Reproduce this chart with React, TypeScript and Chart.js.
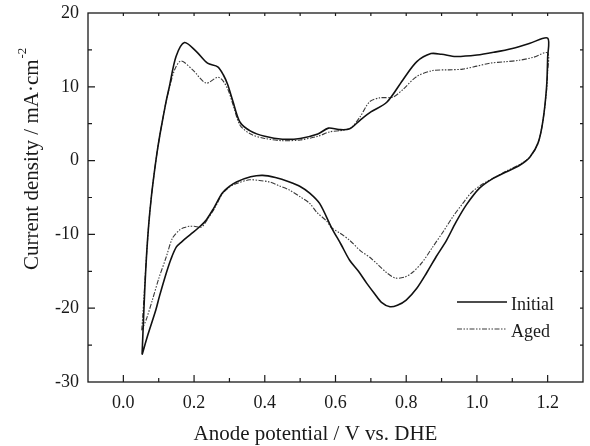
import React, { useEffect, useRef } from "react";
import { Chart, registerables } from "chart.js";

Chart.register(...registerables);

// Initial CV (anodic scan 0.05 -> 1.2, then cathodic scan 1.2 -> 0.05)
const initialX = [
  0.053, 0.057, 0.061, 0.066, 0.072, 0.079, 0.087, 0.095, 0.103, 0.111, 0.12, 0.13, 0.149, 0.173, 0.206, 0.238,
  0.267, 0.283, 0.295, 0.31, 0.33, 0.36, 0.4, 0.45, 0.5, 0.55, 0.58, 0.61, 0.64, 0.67, 0.7, 0.745, 0.79,
  0.83, 0.87, 0.9, 0.94, 1.0, 1.05, 1.1, 1.15, 1.2,
  1.2, 1.197, 1.187, 1.173, 1.15, 1.122, 1.084, 1.046, 1.008, 0.97, 0.94, 0.914, 0.885, 0.858, 0.83,
  0.8, 0.775, 0.754, 0.73, 0.71, 0.688, 0.665, 0.64, 0.615, 0.589, 0.555, 0.527, 0.5, 0.47, 0.43, 0.394,
  0.36, 0.32, 0.3, 0.28, 0.255, 0.235, 0.215, 0.19, 0.165, 0.15, 0.135, 0.121, 0.102, 0.092, 0.07, 0.053,
];
const initialY = [
  -26.2, -21.5, -17.0, -12.5, -8.5, -5.0, -1.8, 1.0, 3.4, 5.5, 7.8, 10, 14.1, 16.0, 14.8, 13.2,
  12.7, 11.6, 10.3, 8.0, 5.2, 4.0, 3.3, 2.9, 3.0, 3.6, 4.4, 4.2, 4.3, 5.5, 6.6, 7.9, 10.9,
  13.4, 14.5, 14.4, 14.1, 14.3, 14.7, 15.2, 15.9, 16.6,
  14, 10.0, 5.5, 2.4, 0.5, -0.6, -1.5, -2.4, -3.7, -6.0, -8.4, -10.8, -13.0, -15.2, -17.3,
  -18.9, -19.6, -19.8, -19.2, -18.0, -16.6, -15.0, -13.5, -11.3, -9.1, -5.8, -4.4, -3.5, -2.9, -2.3, -2.0,
  -2.2, -2.9, -3.5, -4.4, -6.5, -8.0, -9.0, -10.0, -11.0, -11.7, -13.3, -15.3, -18.4, -20.2, -23.5, -26.3,
];

// Aged CV
const agedX = [
  0.052, 0.055, 0.058, 0.062, 0.066, 0.072, 0.079, 0.087, 0.095, 0.103, 0.111, 0.12, 0.13, 0.145, 0.163, 0.196,
  0.234, 0.267, 0.282, 0.297, 0.31, 0.33, 0.36, 0.4, 0.45, 0.5, 0.55, 0.584, 0.62, 0.645, 0.669, 0.697,
  0.725, 0.762, 0.79, 0.83, 0.875, 0.92, 0.96, 1.0, 1.037, 1.08, 1.12, 1.16, 1.2,
  1.2, 1.197, 1.187, 1.173, 1.15, 1.122, 1.084, 1.05, 1.015, 0.985, 0.96, 0.932, 0.905, 0.875, 0.845, 0.819,
  0.795, 0.768, 0.745, 0.72, 0.697, 0.67, 0.64, 0.612, 0.589, 0.575, 0.547, 0.527, 0.5, 0.47, 0.44, 0.414,
  0.385, 0.357, 0.32, 0.3, 0.28, 0.26, 0.24, 0.221, 0.2, 0.187, 0.17, 0.159, 0.139, 0.121, 0.1, 0.082,
  0.065, 0.052,
];
const agedY = [
  -23.0, -21, -18.8, -15.5, -12.5, -8.5, -5.0, -1.8, 1.0, 3.4, 5.5, 7.8, 9.8, 12.3, 13.5, 12.3,
  10.5, 11.3, 10.8, 9.5, 7.6, 4.8, 3.6, 3.0, 2.7, 2.8, 3.3, 3.9, 4.1, 4.5, 5.9, 8.0,
  8.5, 8.6, 9.6, 11.4, 12.2, 12.3, 12.4, 12.8, 13.2, 13.4, 13.6, 14.0, 14.6,
  12, 9.5, 5.5, 2.4, 0.5, -0.5, -1.4, -2.3, -3.2, -4.3, -5.8, -7.6, -9.6, -11.7, -13.8, -15.1,
  -15.8, -15.9, -15.2, -14.1, -13.1, -12.2, -10.8, -9.8, -9.1, -8.2, -7.0, -5.8, -4.9, -4.0, -3.4, -2.9,
  -2.7, -2.6, -3.1, -3.6, -4.5, -6.3, -7.8, -9.0, -8.9, -8.9, -9.1, -9.4, -10.5, -13.1, -16.0, -18.9,
  -21.5, -23.0,
];

const seriesNames = ["Initial", "Aged"];
const xTitle = "Anode potential / V vs. DHE";
const yTitleMain = "Current density / mA\u00b7cm";
const yTitleSup = "-2";

const FONT = "'Liberation Serif', 'Times New Roman', serif";

const zip = (xs: number[], ys: number[]) => xs.map((x, i) => ({ x, y: ys[i] }));

const decor = {
  id: "decor",
  afterDraw(chart: any) {
    const { ctx, chartArea, scales } = chart;
    const { left, right, top, bottom } = chartArea;
    const xs = scales.x;
    const ys = scales.y;
    ctx.save();
    ctx.strokeStyle = "#1a1a1a";
    ctx.lineWidth = 1.3;
    ctx.strokeRect(left, top, right - left, bottom - top);
    ctx.lineWidth = 1.2;
    ctx.beginPath();
    for (let i = 0; i <= 12; i++) {
      const px = xs.getPixelForValue(i / 10);
      const len = i % 2 === 0 ? 7 : 4;
      ctx.moveTo(px, bottom);
      ctx.lineTo(px, bottom - len);
      ctx.moveTo(px, top);
      ctx.lineTo(px, top + 3);
    }
    for (let v = -25; v <= 15; v += 5) {
      const py = ys.getPixelForValue(v);
      const len = v % 10 === 0 ? 7 : 4;
      ctx.moveTo(left, py);
      ctx.lineTo(left + len, py);
      ctx.moveTo(right, py);
      ctx.lineTo(right - 3, py);
    }
    ctx.stroke();

    // axis titles
    ctx.fillStyle = "#1a1a1a";
    ctx.font = `21px ${FONT}`;
    ctx.textAlign = "center";
    ctx.textBaseline = "alphabetic";
    ctx.fillText(xTitle, 315.5, 440);

    ctx.save();
    ctx.translate(38, 270);
    ctx.rotate(-Math.PI / 2);
    ctx.textAlign = "left";
    ctx.fillText(yTitleMain, 0, 0);
    const w = ctx.measureText(yTitleMain).width;
    ctx.font = `13px ${FONT}`;
    ctx.fillText(yTitleSup, w + 1, -12);
    ctx.restore();

    // legend
    const ds = chart.data.datasets;
    const rows = [302, 329];
    ctx.font = `18px ${FONT}`;
    ctx.textAlign = "left";
    ds.forEach((d: any, i: number) => {
      ctx.save();
      ctx.strokeStyle = d.borderColor;
      ctx.lineWidth = d.borderWidth;
      ctx.setLineDash(d.borderDash || []);
      ctx.beginPath();
      ctx.moveTo(457, rows[i]);
      ctx.lineTo(507, rows[i]);
      ctx.stroke();
      ctx.restore();
      ctx.fillText(seriesNames[i], 511, rows[i] + 8);
    });
    ctx.restore();
  },
};

export default function App() {
  const ref = useRef<HTMLCanvasElement>(null);
  useEffect(() => {
    if (!ref.current) return;
    const chart = new Chart(ref.current, {
      type: "scatter",
      data: {
        datasets: [
          {
            label: seriesNames[0],
            data: zip(initialX, initialY),
            showLine: true,
            borderColor: "#111111",
            borderWidth: 1.6,
            pointRadius: 0,
            tension: 0.3,
            fill: false,
          },
          {
            label: seriesNames[1],
            data: zip(agedX, agedY),
            showLine: true,
            borderColor: "#3a3a3a",
            borderWidth: 1.1,
            borderDash: [5, 1.5, 1.5, 1.5, 1.5, 1.5],
            pointRadius: 0,
            tension: 0.3,
            fill: false,
          },
        ],
      },
      options: {
        responsive: false,
        animation: false,
        layout: { padding: { top: 13, right: 7, left: 0, bottom: 0 } },
        plugins: { legend: { display: false }, tooltip: { enabled: false } },
        scales: {
          x: {
            type: "linear",
            min: -0.1,
            max: 1.3,
            grid: { display: false, drawTicks: false },
            border: { display: false },
            afterFit: (s: any) => {
              s.height = 64;
              s.paddingLeft = 0;
              s.paddingRight = 0;
            },
            ticks: {
              stepSize: 0.1,
              autoSkip: false,
              maxRotation: 0,
              padding: 10,
              color: "#1a1a1a",
              font: { family: FONT, size: 18 },
              callback: (v: any) => {
                const i = Math.round(Number(v) * 10);
                if (i < 0 || i > 12 || i % 2 !== 0) return "";
                return (i / 10).toFixed(1);
              },
            },
          },
          y: {
            type: "linear",
            min: -30,
            max: 20,
            grid: { display: false, drawTicks: false },
            border: { display: false },
            afterFit: (s: any) => {
              s.width = 88;
              s.paddingTop = 0;
              s.paddingBottom = 0;
            },
            ticks: {
              stepSize: 5,
              autoSkip: false,
              padding: 9,
              color: "#1a1a1a",
              font: { family: FONT, size: 18 },
              callback: (v: any) => {
                const n = Math.round(Number(v));
                return n % 10 === 0 ? String(n) : "";
              },
            },
          },
        },
      },
      plugins: [decor],
    });
    return () => chart.destroy();
  }, []);
  return (
    <div style={{ position: "fixed", left: 0, top: 0, width: 590, height: 446, background: "#fff" }}>
      <canvas ref={ref} width={590} height={446} style={{ display: "block" }} />
    </div>
  );
}
